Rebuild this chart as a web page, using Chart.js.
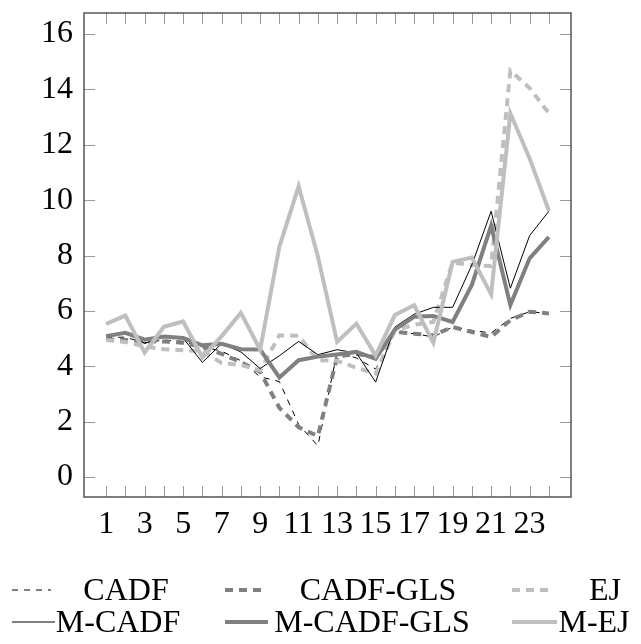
<!DOCTYPE html>
<html>
<head>
<meta charset="utf-8">
<script src="https://cdn.jsdelivr.net/npm/chart.js@4.4.1/dist/chart.umd.min.js"></script>
<style>
  html, body { margin: 0; padding: 0; background: #fff; }
</style>
</head>
<body>
<canvas id="myChart" width="641" height="644"></canvas>
<script>
// index 1..24
const xValues = [1, 2, 3, 4, 5, 6, 7, 8, 9, 10, 11, 12, 13, 14, 15, 16, 17, 18, 19, 20, 21, 22, 23, 24];
const xTicks = xValues;
const yTicks = [0, 2, 4, 6, 8, 10, 12, 14, 16];

const seriesNames = ['CADF', 'CADF-GLS', 'EJ', 'M-CADF', 'M-CADF-GLS', 'M-EJ'];

const cadf = [5.05, 5.05, 4.85, 4.95, 4.9, 4.7, 4.55, 4.2, 3.62, 3.45, 1.9, 1.13,
              4.52, 4.3, 3.9, 5.24, 5.18, 5.06, 5.42, 5.3, 5.2, 5.73, 5.97, 5.91];
const cadfGls = [4.97, 4.95, 4.9, 4.9, 4.85, 4.7, 4.45, 4.15, 3.8, 2.5, 1.8, 1.48,
                 4.35, 4.45, 4.33, 5.24, 5.18, 5.12, 5.42, 5.24, 5.06, 5.67, 5.97, 5.91];
const ej = [4.95, 4.88, 4.72, 4.62, 4.58, 4.55, 4.12, 4.05, 3.85, 5.12, 5.1, 4.22,
            4.2, 3.95, 3.74, 5.3, 5.5, 5.6, 7.75, 7.66, 7.62, 14.68, 14.05, 13.14];
const mCadf = [5.13, 5.24, 4.82, 5.08, 5.02, 4.14, 4.82, 4.52, 3.92, 4.38, 4.9, 4.42,
               4.6, 4.48, 3.43, 5.42, 5.88, 6.13, 6.13, 7.66, 9.6, 6.82, 8.72, 9.6];
const mCadfGls = [5.09, 5.21, 4.96, 5.08, 5.02, 4.76, 4.81, 4.62, 4.61, 3.6, 4.22, 4.35,
                  4.43, 4.52, 4.27, 5.33, 5.79, 5.82, 5.6, 6.94, 9.08, 6.21, 7.9, 8.67];
const mEj = [5.53, 5.83, 4.5, 5.43, 5.62, 4.32, 5.09, 5.93, 4.6, 8.32, 10.5, 7.97,
             4.88, 5.54, 4.39, 5.85, 6.21, 4.85, 7.77, 7.93, 6.6, 13.14, 11.51, 9.62];

const seriesValues = [cadf, cadfGls, ej, mCadf, mCadfGls, mEj];

const DARK = '#808080';
const LIGHT = '#bfbfbf';
const styles = [
  { color: '#000', width: 1, dash: [6, 6] },
  { color: DARK, width: 4, dash: [8, 6] },
  { color: LIGHT, width: 4, dash: [8, 6] },
  { color: '#000', width: 1, dash: [] },
  { color: DARK, width: 4, dash: [] },
  { color: LIGHT, width: 4, dash: [] }
];

const FONT = "'Liberation Serif', 'DejaVu Serif', serif";

// legend cell layout: [lineStart, lineEnd, textCenter]
const legendCells = [
  [12, 51, 126], [225, 264, 378], [512, 549, 605],
  [12, 55, 118], [225, 268, 372], [512, 557, 594]
];
const legendRowY = [590, 622];

const framePlugin = {
  id: 'frameAndLegend',
  beforeDatasetsDraw(chart) {
    const { ctx, chartArea: a } = chart;
    const sx = chart.scales.x, sy = chart.scales.y;
    ctx.save();
    ctx.strokeStyle = '#999';
    ctx.lineWidth = 1;
    ctx.beginPath();
    xTicks.forEach(v => {
      const p = Math.round(sx.getPixelForValue(v)) + 0.5;
      ctx.moveTo(p, a.bottom); ctx.lineTo(p, a.bottom - 11);
      ctx.moveTo(p, a.top); ctx.lineTo(p, a.top + 11);
    });
    yTicks.forEach(v => {
      const p = Math.round(sy.getPixelForValue(v)) + 0.5;
      ctx.moveTo(a.left, p); ctx.lineTo(a.left + 11, p);
      ctx.moveTo(a.right, p); ctx.lineTo(a.right - 11, p);
    });
    ctx.stroke();
    ctx.restore();
  },
  afterDraw(chart) {
    const { ctx, chartArea: a } = chart;
    ctx.save();
    ctx.strokeStyle = '#555';
    ctx.lineWidth = 1.5;
    ctx.strokeRect(a.left, a.top, a.right - a.left, a.bottom - a.top);

    ctx.font = '32px ' + FONT;
    ctx.fillStyle = '#000';
    ctx.textAlign = 'center';
    ctx.textBaseline = 'middle';
    chart.data.datasets.forEach((ds, i) => {
      const [x1, x2, tc] = legendCells[i];
      const y = legendRowY[Math.floor(i / 3)];
      ctx.beginPath();
      ctx.strokeStyle = ds.borderColor;
      ctx.lineWidth = ds.borderWidth;
      ctx.setLineDash(ds.borderDash);
      ctx.moveTo(x1, y); ctx.lineTo(x2, y);
      ctx.stroke();
      ctx.setLineDash([]);
      ctx.fillText(ds.label, tc, y + 2);
    });
    ctx.restore();
  }
};

const noEdgePadding = scale => {
  scale.paddingTop = 0;
  scale.paddingBottom = 0;
  scale.paddingLeft = 0;
  scale.paddingRight = 0;
};

const ctx = document.getElementById('myChart');
const myChart = new Chart(ctx, {
  type: 'line',
  data: {
    datasets: seriesNames.map((name, i) => ({
      label: name,
      data: xValues.map((x, j) => ({ x: x, y: seriesValues[i][j] })),
      borderColor: styles[i].color,
      borderWidth: styles[i].width,
      borderDash: styles[i].dash,
      pointRadius: 0,
      tension: 0,
      fill: false,
      order: seriesNames.length - i
    }))
  },
  options: {
    responsive: false,
    animation: false,
    events: [],
    layout: { padding: { left: 0, right: 70, top: 13, bottom: 102 } },
    plugins: {
      legend: { display: false },
      tooltip: { enabled: false }
    },
    scales: {
      x: {
        type: 'linear',
        min: -0.15,
        max: 25.15,
        afterBuildTicks: scale => { scale.ticks = xTicks.map(v => ({ value: v })); },
        afterFit: scale => { scale.height = 45; noEdgePadding(scale); },
        grid: { display: false, drawTicks: false },
        border: { display: false },
        ticks: {
          autoSkip: false,
          maxRotation: 0,
          padding: 8,
          color: '#000',
          font: { family: FONT, size: 32 },
          callback: v => (v % 2 === 1 ? String(v) : '')
        }
      },
      y: {
        min: -0.72,
        max: 16.76,
        afterBuildTicks: scale => { scale.ticks = yTicks.map(v => ({ value: v })); },
        afterFit: scale => { scale.width = 84; noEdgePadding(scale); },
        grid: { display: false, drawTicks: false },
        border: { display: false },
        ticks: {
          padding: 11,
          color: '#000',
          font: { family: FONT, size: 32 },
          callback: v => String(v)
        }
      }
    }
  },
  plugins: [framePlugin]
});
</script>
</body>
</html>
